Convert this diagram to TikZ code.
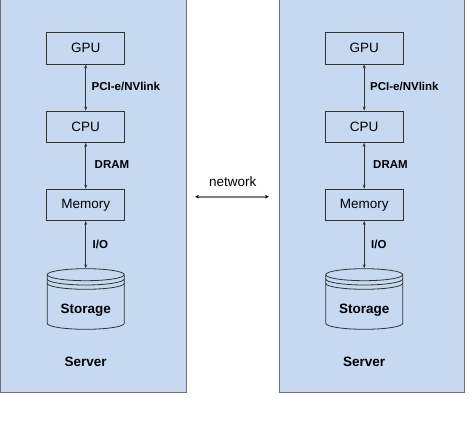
\documentclass[tikz,border=0pt]{standalone}
\usepackage{fontspec}
\setmainfont{Liberation Sans}
\usetikzlibrary{arrows.meta}
\definecolor{panelfill}{HTML}{C6D9F1}
\definecolor{panelline}{HTML}{70707A}
\definecolor{boxline}{HTML}{333333}
\definecolor{netgray}{HTML}{808080}
\begin{document}
\begin{tikzpicture}[x=1pt,y=-1pt,
  panel/.style={draw=panelline, fill=panelfill, line width=0.9pt},
  compbox/.style={draw=boxline, line width=0.8pt, minimum width=78pt, minimum height=31.5pt, inner sep=0pt, font=\fontsize{13.5}{15}\selectfont},
  lbl/.style={anchor=west, inner sep=0pt, font=\fontsize{11.5}{13}\selectfont\bfseries},
  boldtxt/.style={inner sep=0pt, font=\fontsize{13.5}{15}\selectfont\bfseries},
  link/.style={{Stealth[length=4pt,width=3pt]}-{Stealth[length=4pt,width=3pt]}, line width=0.6pt, draw=boxline},
  netlink/.style={{Stealth[length=4pt,width=3.5pt,color=black]}-{Stealth[length=4pt,width=3.5pt,color=black]}, line width=1.6pt, draw=netgray},
  cyl/.style={draw=boxline, line width=0.8pt}
]
\useasboundingbox (0,0) rectangle (476,428);
\clip (0,0) rectangle (476,428);
\foreach \s/\n in {0/L,278.5/R}{
  \begin{scope}[xshift=\s pt]
    \draw[panel] (0.5,-5) rectangle (186.3,392.5);
    \node[compbox] (gpu\n) at (85.7,48.3) {GPU};
    \node[compbox] (cpu\n) at (85.7,126.7) {CPU};
    \node[compbox] (mem\n) at (85.7,204.8) {Memory};
    \node[minimum width=77pt, minimum height=61pt, inner sep=0pt] (sto\n) at (85.7,299) {};
    \draw[cyl] (85.7,274.7) ellipse [x radius=38.5pt, y radius=6pt];
    \draw[cyl] (47.2,279) arc[start angle=180, end angle=360, x radius=38.5pt, y radius=6pt];
    \draw[cyl] (47.2,283.3) arc[start angle=180, end angle=360, x radius=38.5pt, y radius=6pt];
    \draw[cyl] (47.2,274.7) -- (47.2,323.3) arc[start angle=180, end angle=360, x radius=38.5pt, y radius=6pt] -- (124.2,274.7);
    \node[boldtxt] (stotxt\n) at (85.7,310) {Storage};
    \node[boldtxt] (srv\n) at (85.7,361.7) {Server};
    \draw[link] (gpu\n) -- (cpu\n);
    \draw[link] (cpu\n) -- (mem\n);
    \draw[link] (mem\n) -- (sto\n.north);
    \node[lbl] (pci\n) at (91.5,86) {PCI-e/NVlink};
    \node[lbl] (dram\n) at (94.5,165) {DRAM};
    \node[lbl] (io\n) at (92.5,244) {I/O};
  \end{scope}
}
\node[inner sep=0pt, font=\fontsize{13.5}{15}\selectfont] (netlbl) at (232.7,182) {network};
\coordinate (netA) at (195,196.7);
\coordinate (netB) at (269,196.7);
\draw[netlink] (netA) -- (netB);
\end{tikzpicture}
\end{document}
